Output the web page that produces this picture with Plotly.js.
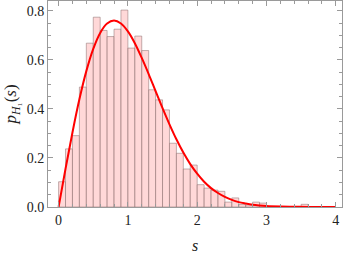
<!DOCTYPE html>
<html>
<head>
<meta charset="utf-8">
<script src="https://cdn.plot.ly/plotly-3.0.1.min.js"></script>
<style>html,body{margin:0;padding:0;background:#fff;}#chart{width:343px;height:254px;}</style>
</head>
<body>
<div id="chart"></div>
<script>
// Histogram bins (left edges, width 0.1) and densities
const binLeft = [0.0,0.1,0.2,0.3,0.4,0.5,0.6,0.7,0.8,0.9,1.0,1.1,1.2,1.3,1.4,1.5,1.6,1.7,1.8,1.9,
                 2.0,2.1,2.2,2.3,2.4,2.5,2.6,2.7,2.8,2.9,3.0,3.1,3.2,3.3,3.4,3.5,3.6,3.7,3.8,3.9];
const density = [0.103,0.237,0.291,0.489,0.668,0.774,0.720,0.695,0.725,0.803,
                 0.648,0.697,0.638,0.478,0.437,0.396,0.260,0.219,0.155,0.171,
                 0.091,0.077,0.069,0.064,0.020,0.037,0.010,0.008,0.020,0.016,
                 0.000,0.000,0.000,0.000,0.000,0.011,0.000,0.000,0.000,0.000];
// Red curve sample points
const curveS = [0.0,0.1,0.2,0.3,0.4,0.5,0.6,0.7,0.8,0.9,1.0,1.1,1.2,1.3,1.4,1.5,1.6,1.7,1.8,1.9,
                2.0,2.1,2.2,2.3,2.4,2.5,2.6,2.7,2.8,2.9,3.0,3.2,3.4,3.6,3.8,4.0];
const curveP = [0.000,0.156,0.304,0.439,0.554,0.645,0.710,0.748,0.760,0.748,0.716,0.668,0.608,0.542,0.472,0.403,0.337,0.276,0.222,0.175,
                0.136,0.103,0.077,0.057,0.041,0.029,0.020,0.014,0.009,0.006,0.004,0.002,0.001,0.000,0.000,0.000];
const binWidth = 0.1;
const xTicks = [0,1,2,3,4];
const yTicks = [0.0,0.2,0.4,0.6,0.8];

const bars = {
  type: 'bar', x: binLeft, y: density,
  width: binLeft.map(() => binWidth), offset: 0,
  marker: {color: 'rgba(255,200,200,0.7)', line: {color: 'rgba(140,110,110,0.65)', width: 0.8}},
  hoverinfo: 'skip', showlegend: false
};
const curve = {
  type: 'scatter', mode: 'lines', x: curveS, y: curveP,
  line: {color: '#ff0000', width: 2, shape: 'spline'},
  hoverinfo: 'skip', showlegend: false
};
const frameColor = '#9a9a9a';
const serif = 'Liberation Serif';
const tickFont = {family: serif, size: 14, color: '#222'};
const layout = {
  width: 343, height: 254,
  margin: {l: 48, r: 1, t: 1, b: 47},
  paper_bgcolor: '#fff', plot_bgcolor: '#fff',
  bargap: 0,
  font: {family: serif, color: '#222'},
  xaxis: {
    range: [-0.153, 4.09], tickvals: xTicks, ticktext: xTicks.map(String),
    ticks: 'inside', ticklen: 5, tickcolor: frameColor, tickwidth: 1,
    minor: {ticks: 'inside', dtick: 0.2, tick0: 0, ticklen: 3, tickcolor: frameColor, showgrid: false},
    showline: true, linecolor: frameColor, linewidth: 1, mirror: 'allticks',
    showgrid: false, zeroline: false, tickfont: tickFont,
    title: {text: '<i>s</i>', font: {family: serif, size: 16, color: '#222'}, standoff: 13}
  },
  yaxis: {
    range: [0, 0.84], tickvals: yTicks, ticktext: yTicks.map(v => v.toFixed(1)),
    ticks: 'inside', ticklen: 5, tickcolor: frameColor, tickwidth: 1,
    minor: {ticks: 'inside', dtick: 0.05, tick0: 0, ticklen: 3, tickcolor: frameColor, showgrid: false},
    showline: true, linecolor: frameColor, linewidth: 1, mirror: 'allticks',
    showgrid: false, zeroline: false, tickfont: tickFont,
    title: {text: '<i>p</i><sub><i>H</i>\u2081</sub>(<i>s</i>)', font: {family: serif, size: 17, color: '#222'}, standoff: 5}
  }
};
Plotly.newPlot('chart', [bars, curve], layout, {staticPlot: true, displayModeBar: false});
</script>
</body>
</html>
